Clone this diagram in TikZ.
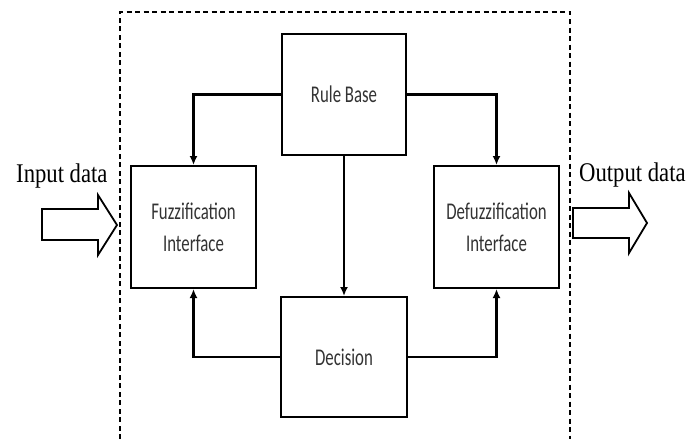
\documentclass[tikz,border=0pt]{standalone}
\usepackage{fontspec}
\usepackage{tikz}
\usetikzlibrary{arrows.meta}
\newfontfamily\boxfont[FakeStretch=0.7]{Carlito}
\newfontfamily\ioserif[FakeStretch=0.84]{Liberation Serif}

\begin{document}
\begin{tikzpicture}[x=1pt, y=-1pt,
    blockbox/.style={draw, line width=2pt, inner sep=0pt, align=center,
        font=\boxfont\fontsize{24}{32}\selectfont, text=black!80},
    conn/.style={line width=2.6pt, -{Latex[length=9pt,width=8pt]}},
    iolabel/.style={anchor=base west, inner sep=0pt, font=\ioserif\fontsize{27}{30}\selectfont},
    fatarrow/.style={draw, line width=1.8pt, line join=miter, fill=white}]
    \useasboundingbox (0,0) rectangle (700,439);

    % Controller frame
    \draw[line width=1.3pt, dash pattern=on 5pt off 3.5pt] (120,439) -- (120,12) -- (570,12) -- (570,439);

    % Blocks
    \node[blockbox, minimum width=124pt, minimum height=121pt] (rule) at (344,94.5) {Rule Base};
    \node[blockbox, minimum width=125pt, minimum height=122pt] (fuzz) at (193.5,227) {Fuzzification\\Interface};
    \node[blockbox, minimum width=125pt, minimum height=122pt] (defuzz) at (496.5,227) {Defuzzification\\Interface};
    \node[blockbox, minimum width=126pt, minimum height=120pt] (dec) at (344,357) {Decision};

    % Connectors
    \draw[conn] (rule.west) -| (fuzz.north);
    \draw[conn] (rule.east) -| (defuzz.north);
    \draw[conn] (rule.south) -- (dec.north);
    \draw[conn] (dec.west) -| (fuzz.south);
    \draw[conn] (dec.east) -| (defuzz.south);

    % Input and output
    \node[iolabel] (inlabel) at (16,182) {Input data};
    \node[iolabel] (outlabel) at (579,181) {Output data};
    \draw[fatarrow] (42,209) -- (98,209) -- (98,195) -- (117,225) -- (98,255) -- (98,240) -- (42,240) -- cycle;
    \draw[fatarrow] (573,208) -- (629,208) -- (629,193) -- (647,223) -- (629,253) -- (629,238) -- (573,238) -- cycle;
\end{tikzpicture}
\end{document}
